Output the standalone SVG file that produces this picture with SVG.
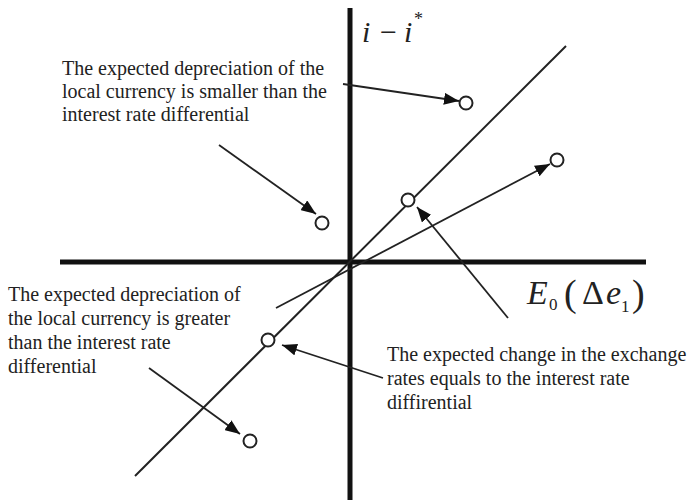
<svg xmlns="http://www.w3.org/2000/svg" width="687" height="500" viewBox="0 0 687 500">
<style>
.lbl{font-family:"Liberation Serif","Times New Roman",serif;font-size:20px;fill:#222}
.math{font-family:"Liberation Serif","Times New Roman",serif;fill:#222}
.ax{stroke:#111;stroke-width:5;fill:none}
.ln{stroke:#222;stroke-width:2;fill:none}
.ar{stroke:#222;stroke-width:1.8;fill:none;marker-end:url(#ah)}
.pt{fill:#fff;stroke:#222;stroke-width:2}
</style>
<defs>
<marker id="ah" markerUnits="userSpaceOnUse" markerWidth="16" markerHeight="12" refX="15" refY="6" orient="auto">
<path d="M0,0 L15,6 L0,12 z" fill="#111"/>
</marker>
</defs>
<rect width="687" height="500" fill="#fff"/>
<g id="axes">
<line class="ax" x1="350" y1="8" x2="350" y2="500"/>
<line class="ax" x1="60" y1="262" x2="646" y2="262"/>
</g>
<g id="lines">
<line class="ln" x1="135" y1="476" x2="566" y2="46"/>
</g>
<g id="connectors">
<line class="ar" x1="276" y1="308" x2="550" y2="164"/>
<line class="ar" x1="343" y1="84" x2="459" y2="101"/>
<line class="ar" x1="219" y1="145" x2="316" y2="214"/>
<line class="ar" x1="508" y1="318" x2="417" y2="207"/>
<line class="ar" x1="383" y1="378" x2="282" y2="345"/>
<line class="ar" x1="149" y1="368" x2="240" y2="434"/>
</g>
<g id="points">
<circle class="pt" cx="466" cy="103" r="6.5"/>
<circle class="pt" cx="557" cy="160" r="6.5"/>
<circle class="pt" cx="408" cy="200" r="6.5"/>
<circle class="pt" cx="322" cy="223" r="6.5"/>
<circle class="pt" cx="268" cy="340" r="6.5"/>
<circle class="pt" cx="250" cy="441" r="6.5"/>
</g>
<g id="label-y">
<text class="math" font-size="30"><tspan x="362" y="42" font-style="italic">i</tspan><tspan x="380" y="42">−</tspan><tspan x="404" y="42" font-style="italic">i</tspan><tspan x="414" y="25" font-size="18">*</tspan></text>
</g>
<g id="label-x">
<text class="math" font-size="34"><tspan x="527" y="304" font-style="italic">E</tspan><tspan x="549" y="310" font-size="17">0</tspan><tspan x="564" y="306" font-size="38">(</tspan><tspan x="582" y="304">Δ</tspan><tspan x="606" y="304" font-style="italic">e</tspan><tspan x="621" y="312" font-size="17">1</tspan><tspan x="632" y="306" font-size="38">)</tspan></text>
</g>
<g id="note-smaller">
<text class="lbl"><tspan x="62" y="75">The expected depreciation of the</tspan><tspan x="62" y="98">local currency is smaller than the</tspan><tspan x="62" y="121">interest rate differential</tspan></text>
</g>
<g id="note-greater">
<text class="lbl"><tspan x="8" y="301">The expected depreciation of</tspan><tspan x="8" y="325">the local currency is greater</tspan><tspan x="8" y="349">than the interest rate</tspan><tspan x="8" y="373">differential</tspan></text>
</g>
<g id="note-equal">
<text class="lbl"><tspan x="387" y="361">The expected change in the exchange</tspan><tspan x="387" y="385">rates equals to the interest rate</tspan><tspan x="387" y="409">diffirential</tspan></text>
</g>
</svg>
